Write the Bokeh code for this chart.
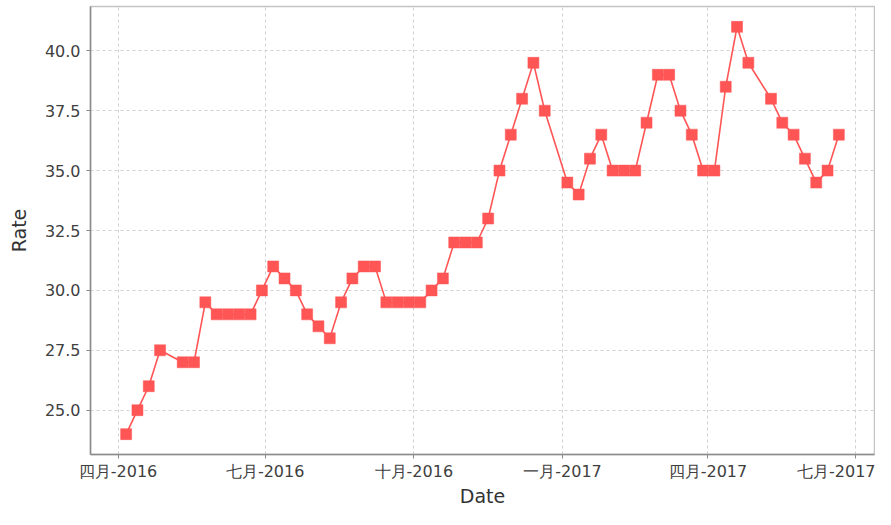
import pandas as pd
from bokeh.plotting import figure
from bokeh.models import Range1d, FixedTicker, PrintfTickFormatter, ColumnDataSource
from bokeh.embed import file_html
from bokeh.resources import INLINE

dates = [
    "2016-04-06", "2016-04-13", "2016-04-20", "2016-04-27",
    "2016-05-11", "2016-05-18", "2016-05-25", "2016-06-01", "2016-06-08",
    "2016-06-15", "2016-06-22", "2016-06-29", "2016-07-06", "2016-07-13",
    "2016-07-20", "2016-07-27", "2016-08-03", "2016-08-10", "2016-08-17",
    "2016-08-24", "2016-08-31", "2016-09-07", "2016-09-14", "2016-09-21",
    "2016-09-28", "2016-10-05", "2016-10-12", "2016-10-19", "2016-10-26",
    "2016-11-02", "2016-11-09", "2016-11-16", "2016-11-23", "2016-11-30",
    "2016-12-07", "2016-12-14", "2016-12-21",
    "2017-01-04", "2017-01-11", "2017-01-18", "2017-01-25", "2017-02-01",
    "2017-02-08", "2017-02-15", "2017-02-22", "2017-03-01", "2017-03-08",
    "2017-03-15", "2017-03-22", "2017-03-29", "2017-04-05", "2017-04-12",
    "2017-04-19", "2017-04-26",
    "2017-05-10", "2017-05-17", "2017-05-24", "2017-05-31", "2017-06-07",
    "2017-06-14", "2017-06-21",
]
rates = [
    24.0, 25.0, 26.0, 27.5,
    27.0, 27.0, 29.5, 29.0, 29.0,
    29.0, 29.0, 30.0, 31.0, 30.5,
    30.0, 29.0, 28.5, 28.0, 29.5,
    30.5, 31.0, 31.0, 29.5, 29.5,
    29.5, 29.5, 30.0, 30.5, 32.0,
    32.0, 32.0, 33.0, 35.0, 36.5,
    38.0, 39.5, 37.5,
    34.5, 34.0, 35.5, 36.5, 35.0,
    35.0, 35.0, 37.0, 39.0, 39.0,
    37.5, 36.5, 35.0, 35.0, 38.5,
    41.0, 39.5,
    38.0, 37.0, 36.5, 35.5, 34.5,
    35.0, 36.5,
]
tick_dates = ["2016-04-01", "2016-07-01", "2016-10-01", "2017-01-01", "2017-04-01", "2017-07-01"]
tick_labels = ["四月-2016", "七月-2016", "十月-2016", "一月-2017", "四月-2017", "七月-2017"]
y_ticks = [25.0, 27.5, 30.0, 32.5, 35.0, 37.5, 40.0]


def to_ms(s):
    ts = pd.to_datetime(s)
    return (ts - pd.Timestamp("1970-01-01")) / pd.Timedelta(milliseconds=1)


x_ms = [float(to_ms(d)) for d in dates]
tick_ms = [float(to_ms(d)) for d in tick_dates]

src = ColumnDataSource(data=dict(x=x_ms, y=rates))

xspan = max(x_ms) - min(x_ms)
yspan = max(rates) - min(rates)

p = figure(
    width=875, height=509,
    x_axis_type="datetime",
    x_range=Range1d(min(x_ms) - 0.05 * xspan, max(x_ms) + 0.05 * xspan),
    y_range=Range1d(min(rates) - 0.05 * yspan, max(rates) + 0.05 * yspan),
    output_backend="svg", toolbar_location=None,
    min_border_left=90, min_border_right=1, min_border_top=6, min_border_bottom=48,
    background_fill_color="white", border_fill_color="white",
)

p.outline_line_color = "#c4c4c4"
p.outline_line_width = 1.5

p.line("x", "y", source=src, line_color="#FF5555", line_width=1.6)
p.scatter("x", "y", source=src, marker="square", size=11,
          fill_color="#FF5555", line_color="#FF5555", line_width=0.5)

# axes
for ax in (p.xaxis[0], p.yaxis[0]):
    ax.axis_line_color = "#8a8a8a"
    ax.axis_line_width = 1.5
    ax.major_tick_line_color = "#8a8a8a"
    ax.major_tick_out = 4
    ax.major_tick_in = 0
    ax.minor_tick_line_color = None
    ax.major_label_text_font = "DejaVu Sans"
    ax.major_label_text_font_size = "16px"
    ax.major_label_text_color = "#404040"
    ax.axis_label_text_font = "DejaVu Sans"
    ax.axis_label_text_font_size = "19px"
    ax.axis_label_text_font_style = "normal"
    ax.axis_label_text_color = "#333333"

p.xaxis.ticker = FixedTicker(ticks=tick_ms)
p.xaxis.major_label_overrides = {t: lab for t, lab in zip(tick_ms, tick_labels)}
p.xaxis.axis_label = "Date"
p.xaxis.major_label_standoff = 3
p.xaxis.axis_label_standoff = 1

p.yaxis.ticker = FixedTicker(ticks=y_ticks)
p.yaxis.formatter = PrintfTickFormatter(format="%.1f")
p.yaxis.axis_label = "Rate"
p.yaxis.major_label_standoff = 6
p.yaxis.axis_label_standoff = 12

for g in (p.xgrid[0], p.ygrid[0]):
    g.grid_line_color = "#d0d0d0"
    g.grid_line_width = 1
    g.grid_line_dash = "3 3"

open("out.html", "w").write(file_html(p, INLINE))
